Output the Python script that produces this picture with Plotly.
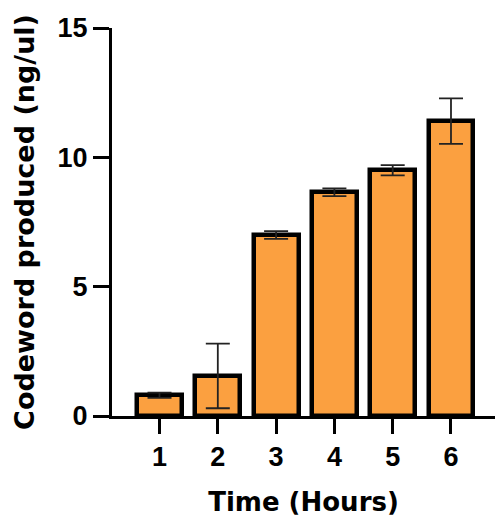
import plotly.graph_objects as go

hours = [1, 2, 3, 4, 5, 6]
tick_labels = ["1", "2", "3", "4", "5", "6"]
codeword_mean = [0.8, 1.55, 7.0, 8.65, 9.5, 11.4]
codeword_err = [0.1, 1.25, 0.15, 0.15, 0.2, 0.88]
y_ticks = [0, 5, 10, 15]

fig = go.Figure()
fig.add_trace(go.Bar(
    x=hours,
    y=codeword_mean,
    width=0.77,
    marker=dict(color="#FBA040", line=dict(color="black", width=4.5)),
    error_y=dict(type="data", array=codeword_err, visible=True,
                 color="#222222", thickness=1.8, width=12),
))

tick_font = dict(family="Liberation Sans, Arial", size=27, weight="bold", color="black")
title_font = dict(family="DejaVu Sans", size=26, weight="bold", color="black")

fig.update_layout(
    template="none",
    width=495, height=527,
    margin=dict(l=112, r=0, t=28, b=111),
    paper_bgcolor="white", plot_bgcolor="white",
    showlegend=False,
    bargap=0,
    xaxis=dict(
        automargin=False,
        range=[0.185, 6.755],
        tickmode="array", tickvals=hours, ticktext=tick_labels,
        showline=True, linecolor="black", linewidth=3,
        ticks="outside", ticklen=15, tickwidth=3, tickcolor="black",
        tickfont=tick_font, showgrid=False, zeroline=False,
        title=dict(text="Time (Hours)", font=title_font, standoff=22),
    ),
    yaxis=dict(
        automargin=False,
        range=[0, 15],
        tickmode="array", tickvals=y_ticks,
        showline=True, linecolor="black", linewidth=3,
        ticks="outside", ticklen=16, tickwidth=3, tickcolor="black",
        tickfont=tick_font, showgrid=False, zeroline=False,
        title=dict(text="Codeword produced (ng/ul)", font=dict(title_font, size=27), standoff=16),
    ),
)

fig.write_html("out.html",
               config={"displayModeBar": False},
               post_script="document.body.style.margin='0';document.body.style.overflow='hidden';")
